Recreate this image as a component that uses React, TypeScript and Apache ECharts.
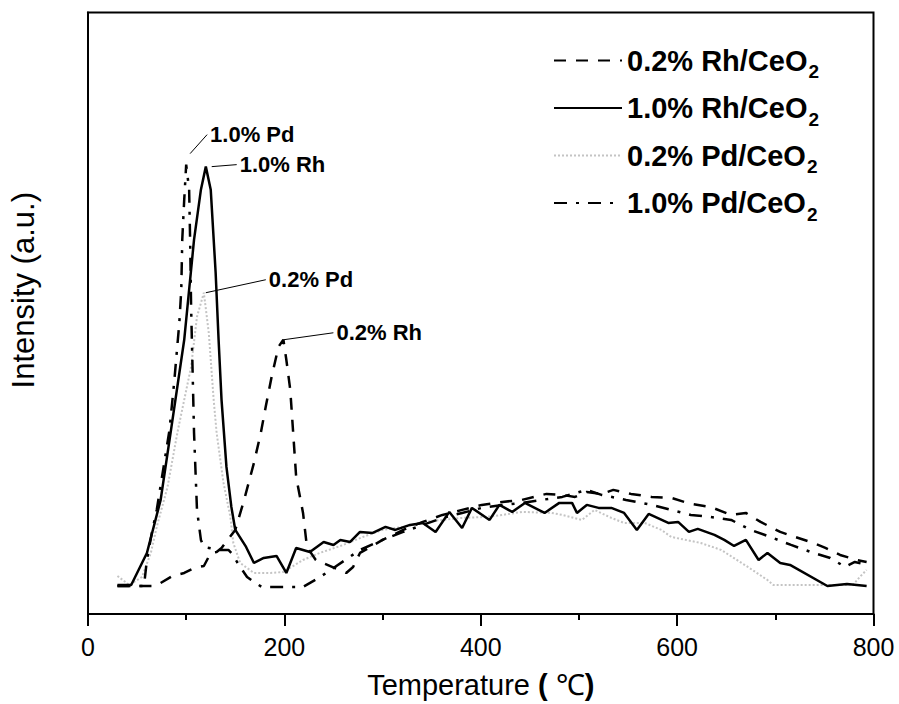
import React, { useEffect, useRef } from "react";
import * as echarts from "echarts";

// ---------- data (temperature °C, intensity a.u.) ----------
const seriesNames = ["0.2% Rh/CeO2", "1.0% Rh/CeO2", "0.2% Pd/CeO2", "1.0% Pd/CeO2"];

const rh02: [number, number][] = [
  [30, 28], [69, 28], [86, 38], [98, 41], [108, 46], [118, 48], [125, 61], [131, 62], [136, 66],
  [150, 84], [159, 114], [169, 151], [176, 181], [181, 207], [187, 237], [194, 267], [199, 274],
  [202, 254], [206, 224], [212, 137], [219, 101], [223, 67], [232, 54], [263, 41], [270, 47],
  [277, 61], [300, 74], [321, 84], [341, 92], [361, 99], [381, 104], [401, 109], [422, 112],
  [442, 114], [467, 120], [483, 119], [496, 117], [508, 122], [523, 120], [535, 124], [553, 120],
  [574, 117], [594, 116], [614, 110], [634, 107], [655, 99], [670, 101], [685, 92], [705, 82],
  [720, 77], [736, 72], [751, 66], [766, 59], [783, 54], [793, 52],
];

const rh10: [number, number][] = [
  [30, 29], [44, 29], [60, 61], [74, 114], [85, 187], [98, 274], [108, 374], [115, 424], [120, 447],
  [125, 424], [130, 341], [133, 274], [136, 214], [141, 147], [146, 107], [150, 84], [161, 67],
  [169, 51], [179, 56], [192, 58], [202, 41], [212, 66], [226, 62], [240, 72], [250, 69], [257, 74],
  [267, 72], [277, 82], [290, 81], [303, 87], [313, 84], [328, 89], [341, 91], [354, 82], [368, 102],
  [381, 86], [391, 106], [409, 94], [419, 109], [432, 102], [445, 111], [465, 101], [480, 111],
  [493, 111], [498, 101], [508, 109], [520, 106], [533, 106], [546, 101], [559, 84], [571, 100],
  [591, 91], [601, 92], [612, 82], [621, 85], [638, 79], [648, 74], [658, 68], [670, 74], [683, 54],
  [692, 61], [705, 51], [715, 49], [753, 28], [773, 30], [793, 28],
];

const pd02: [number, number][] = [
  [30, 38], [42, 29], [55, 37], [64, 61], [70, 87], [81, 127], [91, 181], [98, 214], [105, 247],
  [111, 297], [118, 321], [123, 281], [128, 214], [131, 181], [138, 131], [145, 97], [148, 71],
  [155, 51], [169, 41], [186, 41], [199, 42], [219, 54], [236, 61], [260, 69], [280, 77], [300, 84],
  [321, 87], [341, 92], [361, 94], [381, 96], [405, 97], [422, 99], [442, 102], [472, 101], [483, 99],
  [503, 94], [516, 104], [533, 96], [546, 91], [567, 91], [584, 84], [594, 77], [624, 71], [645, 64],
  [672, 47], [692, 34], [698, 29], [749, 29], [779, 29], [786, 37], [793, 44],
];

const pd10: [number, number][] = [
  [30, 28], [57, 28], [60, 54], [65, 81], [70, 104], [77, 147], [83, 184], [88, 234], [93, 291],
  [95, 324], [96, 374], [98, 414], [100, 449], [103, 424], [104, 374], [105, 307], [108, 181],
  [111, 104], [115, 74], [118, 67], [133, 64], [143, 64], [146, 61], [155, 47], [162, 37], [169, 32],
  [177, 27], [219, 27], [235, 36], [250, 46], [265, 56], [277, 64], [300, 74], [321, 82], [341, 89],
  [361, 96], [381, 101], [401, 106], [422, 109], [442, 111], [462, 114], [483, 117], [508, 124],
  [523, 119], [548, 114], [574, 109], [594, 104], [614, 99], [634, 97], [655, 94], [675, 84],
  [695, 77], [716, 69], [736, 62], [756, 56], [771, 47], [781, 52], [793, 49],
];

const xMin = 0;
const xMax = 800;
const xInterval = 200;
const yMin = 0;
const yMax = 601;

const annotationTexts = ["1.0% Pd", "1.0% Rh", "0.2% Pd", "0.2% Rh"];
const annotationPoints: [number, number][] = [
  [104, 460],
  [126, 447],
  [120, 321],
  [199, 274],
];
// leader end offsets in pixels (layout, not data)
const leaderOffsets: [number, number][] = [
  [17, -19],
  [25, -2],
  [60, -13],
  [50, -7],
];

const FONT = "'Liberation Sans', Arial, Helvetica, sans-serif";

export default function App() {
  const ref = useRef<HTMLDivElement>(null);

  useEffect(() => {
    if (!ref.current) return;
    const chart = echarts.init(ref.current, undefined, { renderer: "svg" });

    const common = { type: "line" as const, showSymbol: false, symbol: "none", smooth: false };

    chart.setOption({
      animation: false,
      backgroundColor: "#fff",
      grid: {
        left: 83.5,
        right: 25.5,
        top: 12.5,
        bottom: 90,
        show: true,
        borderColor: "#000",
        borderWidth: 2,
        backgroundColor: "transparent",
      },
      legend: {
        orient: "vertical",
        left: 548,
        top: 35,
        itemWidth: 68,
        itemHeight: 14,
        itemGap: 6.5,
        data: seriesNames,
        itemStyle: { opacity: 0 },
        textStyle: {
          fontFamily: FONT,
          fontWeight: "bold",
          fontSize: 29,
          color: "#000",
          rich: {
            a: { fontFamily: FONT, fontWeight: "bold", fontSize: 29, color: "#000", lineHeight: 38 },
            s: { fontFamily: FONT, fontWeight: "bold", fontSize: 19, color: "#000", lineHeight: 38, padding: [22, 0, 0, 1] },
          },
        },
        formatter: (name: string) => `{a|${name.slice(0, -1)}}{s|${name.slice(-1)}}`,
      },
      xAxis: {
        type: "value",
        min: xMin,
        max: xMax,
        interval: xInterval,
        name: "{a|Temperature }{b|(}{a| ℃}{b|)}",
        nameLocation: "middle",
        nameGap: 56,
        nameTextStyle: {
          rich: {
            a: { fontFamily: FONT, fontSize: 29, color: "#000" },
            b: { fontFamily: FONT, fontSize: 29, fontWeight: "bold", color: "#000" },
          },
        },
        axisLine: { show: true, lineStyle: { color: "#000", width: 2 } },
        axisTick: { show: true, inside: false, length: 12, lineStyle: { color: "#000", width: 2 } },
        minorTick: { show: true, splitNumber: 2, length: 6, lineStyle: { color: "#000", width: 2 } },
        axisLabel: { fontFamily: FONT, fontSize: 25, color: "#000", margin: 20 },
        splitLine: { show: false },
      },
      yAxis: {
        type: "value",
        min: yMin,
        max: yMax,
        name: "Intensity (a.u.)",
        nameLocation: "middle",
        nameGap: 49,
        nameTextStyle: { fontFamily: FONT, fontSize: 31, color: "#000", padding: [0, 0, 0, 46] },
        axisLine: { show: true, lineStyle: { color: "#000", width: 2 } },
        axisTick: { show: false },
        axisLabel: { show: false },
        splitLine: { show: false },
      },
      series: [
        { ...common, name: seriesNames[0], data: rh02, z: 3, lineStyle: { color: "#000", width: 2.5, type: [12, 10] }, itemStyle: { color: "#000" } },
        { ...common, name: seriesNames[1], data: rh10, z: 4, lineStyle: { color: "#000", width: 2.5, type: "solid" }, itemStyle: { color: "#000" } },
        { ...common, name: seriesNames[2], data: pd02, z: 2, lineStyle: { color: "#c4c4c4", width: 2, type: [2, 2] }, itemStyle: { color: "#c4c4c4" } },
        { ...common, name: seriesNames[3], data: pd10, z: 3, lineStyle: { color: "#000", width: 2.5, type: [13, 9, 3, 9] }, itemStyle: { color: "#000" } },
      ],
    });

    const graphics: any[] = [];
    annotationPoints.forEach((pt, i) => {
      const p = chart.convertToPixel({ xAxisIndex: 0, yAxisIndex: 0 }, pt) as number[];
      const off = leaderOffsets[i];
      const ex = p[0] + off[0];
      const ey = p[1] + off[1];
      graphics.push({
        type: "line",
        shape: { x1: p[0], y1: p[1], x2: ex, y2: ey },
        style: { stroke: "#000", lineWidth: 1 },
        z: 10,
      });
      graphics.push({
        type: "text",
        x: ex + 3,
        y: ey,
        style: {
          text: annotationTexts[i],
          fontFamily: FONT,
          fontWeight: "bold",
          fontSize: 22,
          fill: "#000",
          verticalAlign: "middle",
          align: "left",
        },
        z: 10,
      });
    });
    chart.setOption({ graphic: graphics });

    return () => chart.dispose();
  }, []);

  return (
    <div
      ref={ref}
      style={{ position: "fixed", left: 0, top: 0, width: 899, height: 704, background: "#fff" }}
    />
  );
}
